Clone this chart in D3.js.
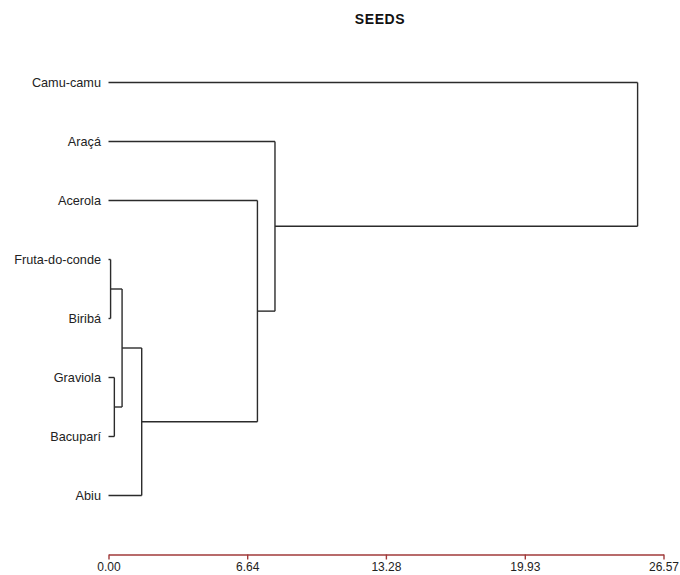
<!DOCTYPE html>
<html>
<head>
<meta charset="utf-8">
<script src="https://cdn.jsdelivr.net/npm/d3@7"></script>
<style>
  body { margin: 0; background: #fff; }
  text { font-family: Arial, "Liberation Sans", sans-serif; }
</style>
</head>
<body>
<script>
const width = 680;
const height = 575;

// leaves, top to bottom
const leaves = ['Camu-camu', 'Araçá', 'Acerola', 'Fruta-do-conde', 'Biribá', 'Graviola', 'Bacuparí', 'Abiu'];
// merges: leaf name or index of an earlier merge
const merges = [
    ['Fruta-do-conde', 'Biribá'],
    ['Graviola', 'Bacuparí'],
    [0, 1],
    [2, 'Abiu'],
    ['Acerola', 3],
    ['Araçá', 4],
    ['Camu-camu', 5]
];
const mergeHeights = [0.10, 0.28, 0.65, 1.59, 7.13, 7.97, 25.33];
const tickValues = [0, 6.64, 13.28, 19.93, 26.57];
const title = 'SEEDS';

// build nested tree from the merge table
let built = [];
merges.forEach(function (m, i) {
    let kids = m.map(k => typeof k === 'number' ? built[k] : { name: k, h: 0 });
    built.push({ name: 'm' + i, h: mergeHeights[i], children: kids });
});
const root = d3.hierarchy(built[built.length - 1]);

const svg = d3.select('body')
    .append('svg')
    .attr('width', width)
    .attr('height', height);

const x = d3.scaleLinear()
    .domain([0, 26.57])
    .range([108.5, 663.5]);

const y = d3.scalePoint()
    .domain(leaves)
    .range([82.5, 495.5]);

// y of every node: leaves from the scale, inner nodes at mid of children
root.eachAfter(function (d) {
    if (d.children) {
        d.py = (d.children[0].py + d.children[d.children.length - 1].py) / 2;
    } else {
        d.py = y(d.data.name);
    }
});

const g = svg.append('g')
    .attr('stroke', '#2b2b2b')
    .attr('stroke-width', 1.4)
    .attr('fill', 'none');

root.descendants().filter(d => d.children).forEach(function (d) {
    let ys = d.children.map(c => c.py);
    g.append('line')
        .attr('x1', x(d.data.h)).attr('x2', x(d.data.h))
        .attr('y1', d3.min(ys)).attr('y2', d3.max(ys));
    d.children.forEach(function (c) {
        g.append('line')
            .attr('x1', x(c.data.h)).attr('x2', x(d.data.h))
            .attr('y1', c.py).attr('y2', c.py);
    });
});

svg.append('g')
    .selectAll('text')
    .data(root.leaves())
    .join('text')
    .attr('x', 101)
    .attr('y', d => d.py)
    .attr('dy', '0.35em')
    .attr('text-anchor', 'end')
    .attr('font-size', 12.7)
    .attr('fill', '#222')
    .text(d => d.data.name);

const axis = svg.append('g')
    .attr('transform', 'translate(0,554.5)')
    .call(d3.axisBottom(x)
        .tickValues(tickValues)
        .tickFormat(d3.format('.2f'))
        .tickSize(5)
        .tickSizeOuter(0)
        .tickPadding(3));

axis.select('.domain').attr('stroke', '#a03a3a').attr('stroke-width', 1.4);
axis.selectAll('.tick line').attr('stroke', '#a03a3a').attr('stroke-width', 1.4);
axis.selectAll('.tick text')
    .attr('font-size', 12)
    .attr('font-family', 'Arial, "Liberation Sans", sans-serif')
    .attr('fill', '#222');

svg.append('text')
    .attr('x', 380)
    .attr('y', 24)
    .attr('text-anchor', 'middle')
    .attr('font-size', 14)
    .attr('font-weight', 'bold')
    .attr('letter-spacing', 0.6)
    .attr('fill', '#111')
    .text(title);
</script>
</body>
</html>
